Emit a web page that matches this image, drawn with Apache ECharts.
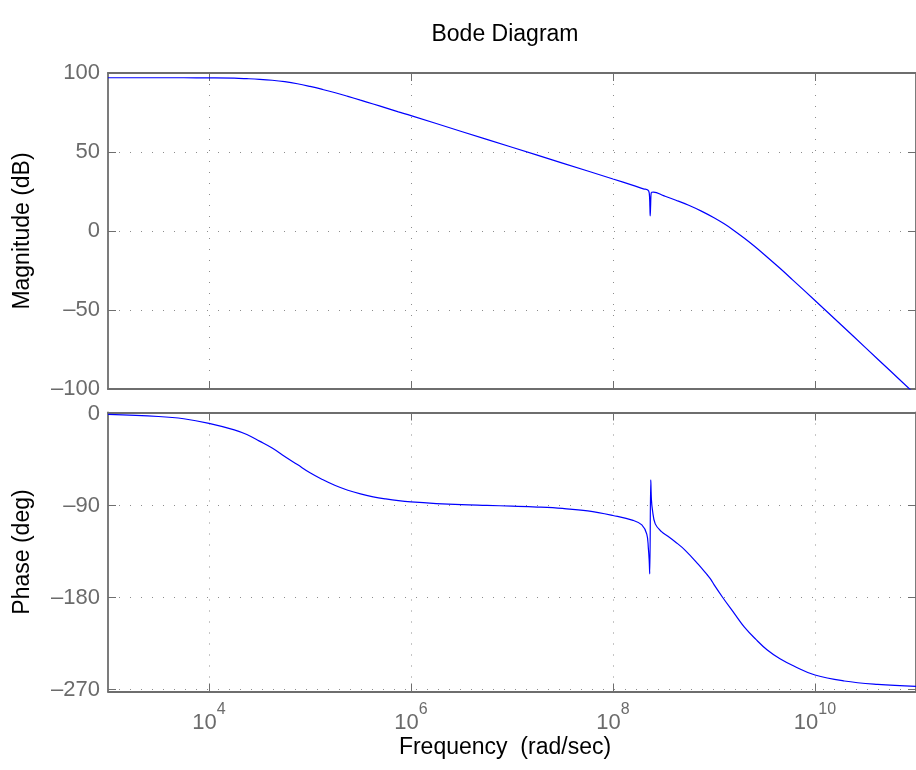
<!DOCTYPE html>
<html>
<head>
<meta charset="utf-8">
<title>Bode Diagram</title>
<script src="https://cdn.jsdelivr.net/npm/echarts@6/dist/echarts.min.js"></script>
<style>
html, body { margin: 0; padding: 0; background: #fff; }
#chart { width: 916px; height: 770px; }
</style>
</head>
<body>
<div id="chart"></div>
<script>
// magnitude curve (rad/sec -> dB)
let magFreq = [1e3, 3.16e3, 5.62e3, 1e4, 1.78e4, 2.37e4, 3.16e4, 4.22e4, 5.62e4, 7.5e4,
    1e5, 1.33e5, 1.78e5, 2.37e5, 3.16e5, 4.22e5, 5.62e5, 7.5e5, 1e6, 3.16e6,
    1e7, 3.16e7, 1e8, 1.58e8, 2e8, 2.21e8, 2.285e8, 2.32e8, 2.335e8, 2.36e8,
    2.39e8, 2.52e8, 3.16e8, 4.2e8, 5.62e8, 7.5e8, 1e9, 1.25e9, 1.5e9, 2e9,
    2.5e9, 3.16e9, 4.5e9, 6e9, 1e10, 1.8e10, 3.16e10, 5.62e10, 1e11];
let magDb = [97.0, 97.0, 97.0, 96.9, 96.7, 96.4, 96.0, 95.4, 94.5, 93.2,
    91.5, 89.6, 87.5, 85.2, 82.8, 80.4, 77.9, 75.4, 73.0, 63.0,
    53.0, 43.0, 32.9, 28.9, 26.7, 25.9, 24.0, 15.0, 9.5, 17.0,
    24.2, 24.6, 22.4, 19.5, 16.3, 12.6, 8.4, 4.7, 1.3, -4.6,
    -9.5, -15.0, -23.6, -30.9, -44.0, -59.2, -73.8, -88.8, -103.8];

// phase curve (rad/sec -> deg)
let phaseFreq = [1e3, 3.16e3, 5.62e3, 1e4, 1.78e4, 2.37e4, 3.16e4, 4.22e4, 5.62e4, 7.5e4,
    1e5, 1.33e5, 1.78e5, 2.37e5, 3.16e5, 4.22e5, 5.62e5, 7.5e5, 1e6, 1.78e6,
    3.16e6, 5.62e6, 1e7, 1.78e7, 3.16e7, 5.62e7, 1e8, 1.58e8, 1.93e8, 2.16e8,
    2.24e8, 2.28e8, 2.31e8, 2.366e8, 2.4e8, 2.455e8, 2.62e8, 3.02e8, 3.5e8, 4.12e8,
    5.16e8, 7e8, 8.5e8, 9.33e8, 1e9, 1.22e9, 1.6e9, 2e9, 2.6e9, 3.37e9,
    4.5e9, 6.17e9, 1e10, 1.95e10, 4.17e10, 1e11];
let phaseDeg = [-0.9, -2.9, -5.1, -9.6, -16, -20.6, -27, -33.8, -42, -50,
    -58, -64.6, -70.5, -75.1, -78.7, -81.5, -83.6, -85.3, -86.5, -88.1,
    -89.2, -89.9, -90.6, -91.5, -92.9, -95.3, -99.8, -104.5, -109, -118,
    -132, -143, -157, -65, -84, -94, -108, -115.6, -120, -125.4,
    -133.6, -147.6, -157.5, -162.5, -167.5, -180, -196, -209, -221, -231.4,
    -240, -247.1, -255.9, -261.7, -265, -267];

let freqTicks = [1e4, 1e6, 1e8, 1e10];
let magTicks = [-100, -50, 0, 50, 100];
let phaseTicks = [-270, -180, -90, 0];

let axisGray = '#6e6e6e';
let labelGray = '#6b6b6b';
let fontName = 'Liberation Sans, Arial, Helvetica, sans-serif';
let dotted = { color: '#8c8c8c', width: 1, type: [1, 10] };

function zip(xs, ys) {
    return xs.map((x, i) => [x, ys[i]]);
}

function minusLabel(v) {
    return v < 0 ? '\u2013' + Math.abs(v) : String(v);
}

function powerLabel(v) {
    return '{b|10}{e|' + Math.round(Math.log10(v)) + '}';
}

function freqAxis(grid, pos, withLabels) {
    return {
        type: 'log',
        logBase: 10,
        gridIndex: grid,
        position: pos,
        min: 1e3,
        max: 1e11,
        axisLine: { show: true, onZero: false, lineStyle: { color: axisGray, width: 1.8 } },
        axisTick: { show: true, inside: true, length: 8, customValues: freqTicks, lineStyle: { color: axisGray } },
        minorTick: { show: false },
        axisLabel: withLabels ? {
            show: true,
            customValues: freqTicks,
            margin: 10,
            formatter: powerLabel,
            rich: {
                b: { fontSize: 22, fontFamily: fontName, color: labelGray, lineHeight: 32, verticalAlign: 'bottom' },
                e: { fontSize: 16, fontFamily: fontName, color: labelGray, lineHeight: 18, verticalAlign: 'top' }
            }
        } : { show: false },
        splitLine: { show: pos === 'bottom', lineStyle: dotted }
    };
}

function valueAxis(grid, pos, min, max, ticks, name) {
    let left = pos === 'left';
    return {
        type: 'value',
        gridIndex: grid,
        position: pos,
        min: min,
        max: max,
        name: left ? name : '',
        nameLocation: 'middle',
        nameGap: 74,
        nameTextStyle: { color: '#000', fontSize: 23, fontFamily: fontName },
        axisLine: { show: true, lineStyle: { color: axisGray, width: 1.8 } },
        axisTick: { show: true, inside: true, length: 8, customValues: ticks, lineStyle: { color: axisGray } },
        axisLabel: left ? {
            show: true,
            customValues: ticks,
            margin: 8,
            color: labelGray,
            fontSize: 22,
            fontFamily: fontName,
            formatter: minusLabel
        } : { show: false },
        splitLine: { show: left, lineStyle: dotted }
    };
}

function curve(xi, yi, data) {
    return {
        type: 'line',
        xAxisIndex: xi,
        yAxisIndex: yi,
        data: data,
        showSymbol: false,
        symbol: 'none',
        smooth: 0.4,
        lineStyle: { color: '#0000ff', width: 1.2 }
    };
}

let chart = echarts.init(document.getElementById('chart'), null, { renderer: 'canvas' });

let option = {
    animation: false,
    backgroundColor: '#fff',
    grid: [
        { left: 108, top: 73, width: 810, height: 316 },
        { left: 108, top: 412.5, width: 810, height: 279 }
    ],
    xAxis: [
        freqAxis(0, 'bottom', false),
        freqAxis(0, 'top', false),
        freqAxis(1, 'bottom', true),
        freqAxis(1, 'top', false)
    ],
    yAxis: [
        valueAxis(0, 'left', -100, 100, magTicks, 'Magnitude (dB)'),
        valueAxis(0, 'right', -100, 100, magTicks, ''),
        valueAxis(1, 'left', -272, 1, phaseTicks, 'Phase (deg)'),
        valueAxis(1, 'right', -272, 1, phaseTicks, '')
    ],
    graphic: [
        {
            type: 'text', x: 505, y: 35,
            style: { text: 'Bode Diagram', fill: '#000', fontSize: 23, fontFamily: fontName, align: 'center', verticalAlign: 'middle' }
        },
        {
            type: 'text', x: 505, y: 748,
            style: { text: 'Frequency  (rad/sec)', fill: '#000', fontSize: 23, fontFamily: fontName, align: 'center', verticalAlign: 'middle' }
        }
    ],
    series: [
        curve(0, 0, zip(magFreq, magDb)),
        curve(2, 2, zip(phaseFreq, phaseDeg))
    ]
};

chart.setOption(option);
</script>
</body>
</html>
